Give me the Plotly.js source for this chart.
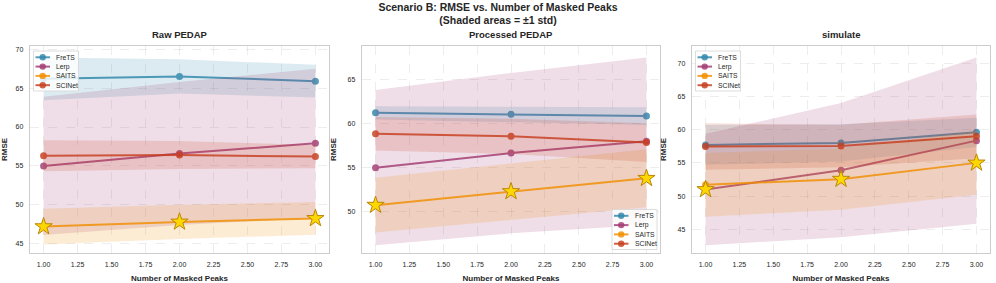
<!DOCTYPE html>
<html>
<head>
<meta charset="utf-8">
<script src="https://cdn.plot.ly/plotly-3.0.1.min.js"></script>
<style>html,body{margin:0;padding:0;background:#fff;}#chart{width:996px;height:283px;}</style>
</head>
<body>
<div id="chart"></div>
<script>
// ---------------- data ----------------
const xVals = [1, 2, 3];
const models = ['FreTS', 'Lerp', 'SAITS', 'SCINet'];
const panelTitles = ['Raw PEDAP', 'Processed PEDAP', 'simulate'];
const xTickVals = [1.00, 1.25, 1.50, 1.75, 2.00, 2.25, 2.50, 2.75, 3.00];

// Raw PEDAP
const raw_FreTS_mean  = [66.2, 66.5, 65.9];
const raw_FreTS_std   = [2.75, 2.2, 2.1];
const raw_Lerp_mean   = [55.0, 56.6, 57.9];
const raw_Lerp_std    = [8.9, 9.2, 9.6];
const raw_SAITS_mean  = [47.2, 47.8, 48.25];
const raw_SAITS_std   = [2.3, 2.2, 2.1];
const raw_SCINet_mean = [56.3, 56.4, 56.2];
const raw_SCINet_std  = [2.0, 1.8, 1.5];

// Processed PEDAP
const proc_FreTS_mean  = [61.17, 61.0, 60.8];
const proc_FreTS_std   = [0.75, 0.9, 1.0];
const proc_Lerp_mean   = [54.95, 56.6, 57.95];
const proc_Lerp_std    = [8.8, 9.1, 9.5];
const proc_SAITS_mean  = [50.7, 52.25, 53.75];
const proc_SAITS_std   = [3.1, 3.2, 3.3];
const proc_SCINet_mean = [58.8, 58.5, 57.8];
const proc_SCINet_std  = [1.9, 2.0, 2.2];

// simulate
const sim_FreTS_mean  = [57.7, 58.0, 59.6];
const sim_FreTS_std   = [3.0, 2.8, 2.2];
const sim_Lerp_mean   = [51.0, 53.9, 58.35];
const sim_Lerp_std    = [8.4, 10.1, 12.5];
const sim_SAITS_mean  = [51.7, 52.55, 55.0];
const sim_SAITS_std   = [4.8, 4.6, 4.8];
const sim_SCINet_mean = [57.45, 57.55, 59.0];
const sim_SCINet_std  = [3.5, 3.2, 3.3];

// ---------------- styling ----------------
const colors = {FreTS: '#2E86AB', Lerp: '#A23B72', SAITS: '#F18F01', SCINet: '#C73E1D'};
const W = 996, H = 283;
const FONT = 'Liberation Sans, Arial, Helvetica, sans-serif';
const TXT = '#262626';

const panels = [
  {title: panelTitles[0], means: [raw_FreTS_mean, raw_Lerp_mean, raw_SAITS_mean, raw_SCINet_mean],
   stds: [raw_FreTS_std, raw_Lerp_std, raw_SAITS_std, raw_SCINet_std],
   rect: [30, 46, 329, 253], yr: [43.8, 70.42], legend: 'ul'},
  {title: panelTitles[1], means: [proc_FreTS_mean, proc_Lerp_mean, proc_SAITS_mean, proc_SCINet_mean],
   stds: [proc_FreTS_std, proc_Lerp_std, proc_SAITS_std, proc_SCINet_std],
   rect: [362, 46, 660, 253], yr: [45.27, 68.75], legend: 'lr'},
  {title: panelTitles[2], means: [sim_FreTS_mean, sim_Lerp_mean, sim_SAITS_mean, sim_SCINet_mean],
   stds: [sim_FreTS_std, sim_Lerp_std, sim_SAITS_std, sim_SCINet_std],
   rect: [692, 46, 990, 253], yr: [41.43, 72.6], legend: 'ul'}
];

function hexA(hex, a) {
  const r = parseInt(hex.slice(1, 3), 16), g = parseInt(hex.slice(3, 5), 16), b = parseInt(hex.slice(5, 7), 16);
  return 'rgba(' + r + ',' + g + ',' + b + ',' + a + ')';
}
const px = v => v / W;
const py = v => 1 - v / H;

const traces = [];
const layout = {
  width: W, height: H, autosize: false,
  margin: {l: 0, r: 0, t: 0, b: 0, pad: 0},
  paper_bgcolor: '#ffffff', plot_bgcolor: '#ffffff',
  showlegend: false,
  font: {family: FONT, color: TXT, size: 7},
  title: {
    text: '<b>Scenario B: RMSE vs. Number of Masked Peaks<br>(Shaded areas = ±1 std)</b>',
    x: 0.5, xanchor: 'center', xref: 'paper',
    y: 1 - 10.5 / H, yanchor: 'top', yref: 'container',
    font: {family: FONT, size: 10.5, color: TXT}
  },
  shapes: [], annotations: []
};

panels.forEach((p, i) => {
  const n = i + 1;
  const xa = 'x' + (n === 1 ? '' : n), ya = 'y' + (n === 1 ? '' : n);
  const [L, T, R, B] = p.rect;

  models.forEach((m, k) => {
    const mean = p.means[k], sd = p.stds[k];
    const upper = mean.map((v, j) => v + sd[j]);
    const lower = mean.map((v, j) => v - sd[j]);
    traces.push({
      x: xVals.concat(xVals.slice().reverse()),
      y: upper.concat(lower.slice().reverse()),
      xaxis: xa, yaxis: ya, type: 'scatter', mode: 'lines',
      fill: 'toself', fillcolor: hexA(colors[m], 0.17),
      line: {width: 0, color: 'rgba(0,0,0,0)'}, hoverinfo: 'skip', showlegend: false
    });
    traces.push({
      x: xVals, y: mean, xaxis: xa, yaxis: ya, type: 'scatter', mode: 'lines+markers',
      name: m, opacity: 0.82,
      line: {color: colors[m], width: 2},
      marker: {color: colors[m], size: 7, symbol: 'circle'}
    });
  });
  // best (minimum RMSE) model at each x, marked by a star
  const best = xVals.map((_, j) => Math.min(...p.means.map(a => a[j])));
  traces.push({
    x: xVals, y: best, xaxis: xa, yaxis: ya, type: 'scatter', mode: 'markers',
    name: 'best', showlegend: false,
    marker: {symbol: 'star', size: 13, color: '#FFD700', line: {color: '#B8860B', width: 1}}
  });

  const axCommon = {
    showline: true, mirror: true, linecolor: '#cccccc', linewidth: 1.25,
    showgrid: true, gridcolor: 'rgba(0,0,0,0.09)', gridwidth: 0.8, griddash: 'dash',
    zeroline: false, ticks: '', automargin: false,
    tickfont: {family: FONT, size: 7, color: TXT}
  };
  layout['xaxis' + (n === 1 ? '' : n)] = Object.assign({}, axCommon, {
    domain: [px(L), px(R)], range: [0.9, 3.1], anchor: ya,
    tickmode: 'array', tickvals: xTickVals, tickformat: '.2f', ticklabelstandoff: 4,
    title: {text: '<b>Number of Masked Peaks</b>', font: {family: FONT, size: 8, color: TXT}}
  });
  layout['yaxis' + (n === 1 ? '' : n)] = Object.assign({}, axCommon, {
    domain: [py(B), py(T)], range: p.yr, anchor: xa, dtick: 5, tick0: 0, ticklabelstandoff: 4,
    title: {text: '<b>RMSE</b>', font: {family: FONT, size: 8, color: TXT}}
  });

  // subplot title
  layout.annotations.push({
    text: '<b>' + p.title + '</b>', xref: 'paper', yref: 'paper',
    x: px((L + R) / 2), y: py(42.5), xanchor: 'center', yanchor: 'bottom', showarrow: false,
    font: {family: FONT, size: 9.5, color: TXT}
  });

  // legend box (drawn as layout decoration)
  const bw = 45, bh = 40;
  let bx0, by0;
  if (p.legend === 'ul') { bx0 = L + 3.5; by0 = T + 5; }
  else { bx0 = R - 3 - bw; by0 = B - 3.5 - bh; }
  layout.shapes.push({
    type: 'rect', xref: 'paper', yref: 'paper', layer: 'above',
    x0: px(bx0), x1: px(bx0 + bw), y0: py(by0 + bh), y1: py(by0),
    fillcolor: 'rgba(255,255,255,0.82)', line: {color: '#d4d4d4', width: 0.8}
  });
  models.forEach((m, k) => {
    const ey = by0 + 6.3 + k * 9.3;
    layout.shapes.push({
      type: 'line', xref: 'paper', yref: 'paper', layer: 'above',
      x0: px(bx0 + 2), x1: px(bx0 + 16.5), y0: py(ey), y1: py(ey),
      line: {color: hexA(colors[m], 0.82), width: 2}
    });
    layout.shapes.push({
      type: 'circle', xref: 'paper', yref: 'paper', layer: 'above',
      xsizemode: 'pixel', ysizemode: 'pixel', xanchor: px(bx0 + 9.2), yanchor: py(ey),
      x0: -3.2, x1: 3.2, y0: -3.2, y1: 3.2,
      fillcolor: hexA(colors[m], 0.82), line: {width: 0}
    });
    layout.annotations.push({
      text: m, xref: 'paper', yref: 'paper', x: px(bx0 + 20.5), y: py(ey),
      xanchor: 'left', yanchor: 'middle', showarrow: false,
      font: {family: FONT, size: 6.8, color: TXT}
    });
  });
});

Plotly.newPlot('chart', traces, layout, {staticPlot: true, displayModeBar: false});
</script>
</body>
</html>
